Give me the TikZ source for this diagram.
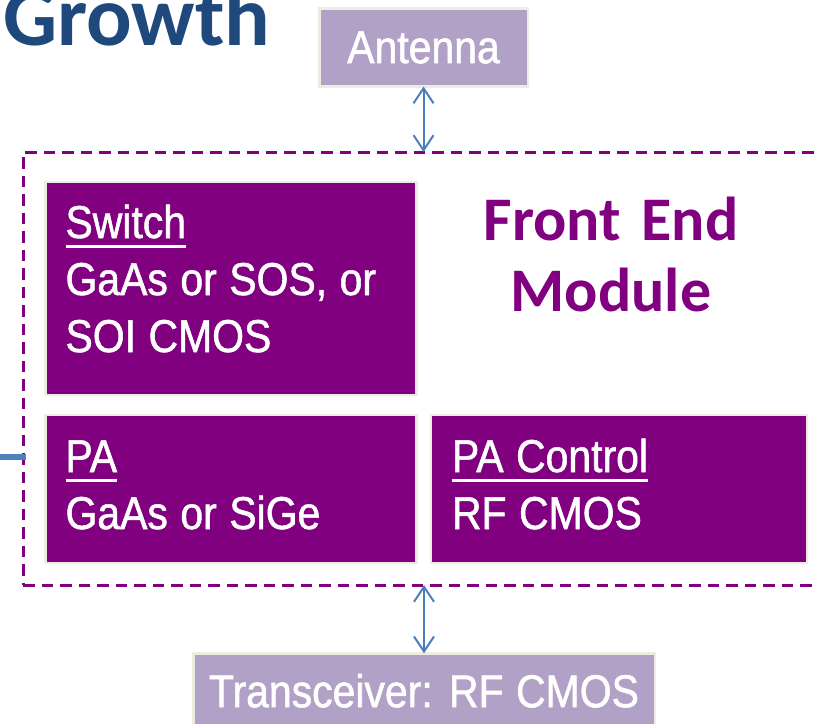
\documentclass[tikz,border=0pt]{standalone}
\usepackage{fontspec}
\setmainfont{Liberation Sans}[FakeStretch=0.89, FakeBold=1.2, WordSpace=1.1]
\newfontfamily\titlefont{Carlito}[BoldFont={Carlito Bold}]
\usetikzlibrary{arrows.meta, positioning}

\definecolor{femPurple}{HTML}{800080}
\definecolor{boxLilac}{HTML}{B2A1C7}
\definecolor{boxEdge}{HTML}{EEECE1}
\definecolor{linkBlue}{HTML}{4A7EBB}
\definecolor{leadBlue}{HTML}{4F81BD}
\definecolor{titleBlue}{HTML}{1F497D}

\newcommand{\headline}[1]{\setbox0\hbox{#1}\rlap{\rule[-10pt]{\wd0}{3pt}}\box0}

\begin{document}
\begin{tikzpicture}[x=1pt, y=-1pt,
  every node/.style = {inner sep=0pt, outer sep=0pt},
  modbox/.style = {draw=boxEdge, line width=2.5pt, fill=femPurple},
  endbox/.style = {draw=boxEdge, line width=2.5pt, fill=boxLilac, text=white,
    font=\fontsize{46}{57}\selectfont},
  modtext/.style = {text=white, anchor=base west, font=\fontsize{46}{57}\selectfont},
  frame/.style = {draw=femPurple, line width=3pt, dash pattern=on 11.5pt off 7pt},
  link/.style = {linkBlue, line width=2pt,
    {Straight Barb[length=15pt,width=20pt]}-{Straight Barb[length=15pt,width=20pt]}}]
 \useasboundingbox (0,0) rectangle (814,723);

 \node [anchor=base west, text=titleBlue, font=\titlefont\bfseries\fontsize{85}{90}\selectfont]
   (growth) at (3,45) {Growth};

 \node [endbox, minimum width=208.5pt, minimum height=78pt] (antenna) at (423.5,47.5) {Antenna};

 \node [frame, minimum width=817pt, minimum height=433pt] (fem) at (431.5,368.5) {};

 \node [modbox, minimum width=371pt, minimum height=213pt] (switch) at (231,288.5) {};
 \node [modbox, minimum width=371pt, minimum height=148pt, below=20pt of switch] (pa) {};
 \node [modbox, minimum width=376pt, minimum height=148pt, right=14.5pt of pa] (pactrl) {};

 \node [modtext] (switchtxt) at ([shift={(20,56)}]switch.north west)
   {\begin{tabular}[t]{@{}l@{}}\headline{Switch}\\GaAs or SOS, or\\SOI CMOS\end{tabular}};
 \node [modtext] (patxt) at ([shift={(20,57)}]pa.north west)
   {\begin{tabular}[t]{@{}l@{}}\headline{PA}\\GaAs or SiGe\end{tabular}};
 \node [modtext] (pactrltxt) at ([shift={(21,57)}]pactrl.north west)
   {\begin{tabular}[t]{@{}l@{}}\headline{PA Control}\\RF CMOS\end{tabular}};

 \node [anchor=base, align=center, text width=320pt, text=femPurple,
   font=\titlefont\bfseries\fontsize{62}{71}\selectfont]
   (femlabel) at (611,240) {Front End\\Module};

 \node [endbox, minimum width=461.5pt, minimum height=75pt, anchor=north]
   (trx) at (424,653.25) {Transceiver: RF CMOS};

 \draw [link] (antenna.south) -- (antenna.south |- fem.north);
 \draw [link] (trx.north) -- (trx.north |- fem.south);

 \coordinate (offpage) at (0,457);
 \draw [line width=5.5pt, color=leadBlue, shorten >=-3pt] (offpage) -- (offpage -| fem.west);
\end{tikzpicture}
\end{document}
